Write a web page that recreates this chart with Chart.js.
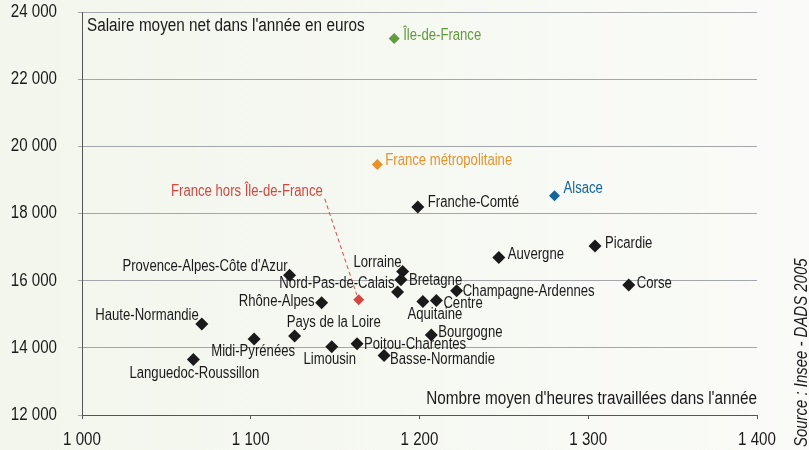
<!DOCTYPE html>
<html>
<head>
<meta charset="utf-8">
<script src="https://cdn.jsdelivr.net/npm/chart.js@4"></script>
<style>
html,body{margin:0;padding:0;background:#f6f9f2;}
#wrap{width:809px;height:450px;position:relative;}
</style>
</head>
<body>
<div id="wrap"><canvas id="c" width="809" height="450"></canvas></div>
<script>
// ---- data ----
const regions = ["Provence-Alpes-Côte d'Azur","Lorraine","Bretagne","Nord-Pas-de-Calais","Rhône-Alpes","Haute-Normandie","Pays de la Loire","Midi-Pyrénées","Limousin","Poitou-Charentes","Basse-Normandie","Languedoc-Roussillon","Aquitaine","Centre","Champagne-Ardennes","Bourgogne","Auvergne","Picardie","Corse","Franche-Comté"];
const regionHours = [1123,1190,1189,1187,1142,1071,1126,1102,1148,1163,1179,1066,1202,1210,1222,1207,1247,1304,1324,1199];
const regionSalary = [16160,16270,16030,15660,15340,14710,14350,14260,14030,14120,13770,13650,15380,15410,15700,14380,16690,17030,15870,18190];

const alsaceName = ["Alsace"];
const alsaceHours = [1280];
const alsaceSalary = [18530];

const idfName = ["Île-de-France"];
const idfHours = [1185];
const idfSalary = [23210];

const metroName = ["France métropolitaine"];
const metroHours = [1175];
const metroSalary = [19460];

const horsIdfName = ["France hors Île-de-France"];
const horsIdfHours = [1164];
const horsIdfSalary = [15430];

const xTicks = [1000,1100,1200,1300,1400];
const yTicks = [12000,14000,16000,18000,20000,22000,24000];

const yTitle = "Salaire moyen net dans l'année en euros";
const xTitle = "Nombre moyen d'heures travaillées dans l'année";
const sourceText = "Source : Insee - DADS 2005";

// ---- label placement (styling: pixel offsets from the marker) ----
const regionLabelPlace = [
  [-2,-9,'right'],[-1,-9,'right'],[8,1,'left'],[-3,-8,'right'],[-7,-1,'right'],
  [-3,-8,'right'],[-8,-13,'left'],[-1,12,'center'],[-2,13,'center'],[7,1,'left'],
  [6,4,'left'],[1,14,'center'],[12,13,'center'],[7,3,'left'],[6,1,'left'],
  [7,-2,'left'],[9,-3,'left'],[10,-2,'left'],[8,-1,'left'],[10,-5,'left']
];
const alsacePlace = [[9,-7,'left']];
const idfPlace = [[9,-3,'left']];
const metroPlace = [[8,-4,'left']];
const horsIdfPlace = [[-36,-108,'right']];

const FONT = "'Liberation Sans',Arial,sans-serif";
Chart.defaults.font.family = FONT;

function pts(xs, ys){ return xs.map((x,i)=>({x:x,y:ys[i]})); }
function fmt(v){ return String(v).replace(/\B(?=(\d{3})+(?!\d))/g,' '); }

// condensed text drawing (emulates a narrow sans face)
function narrowText(ctx, text, x, y, opt){
  ctx.save();
  ctx.translate(x, y);
  if (opt.rotate) ctx.rotate(opt.rotate);
  ctx.scale(opt.narrow || 0.82, 1);
  ctx.font = (opt.italic ? 'italic ' : '') + opt.size + 'px ' + FONT;
  ctx.fillStyle = opt.color || '#1a1a1a';
  ctx.textAlign = opt.align || 'left';
  ctx.textBaseline = opt.baseline || 'middle';
  ctx.fillText(text, 0, 0);
  ctx.restore();
}

const datasets = [
  {label:'Régions', data:pts(regionHours,regionSalary), names:regions, place:regionLabelPlace, color:'#1a1a1a'},
  {label:'Alsace', data:pts(alsaceHours,alsaceSalary), names:alsaceName, place:alsacePlace, color:'#15649f'},
  {label:'Île-de-France', data:pts(idfHours,idfSalary), names:idfName, place:idfPlace, color:'#649a3e'},
  {label:'France métropolitaine', data:pts(metroHours,metroSalary), names:metroName, place:metroPlace, color:'#e8922c'},
  {label:'France hors Île-de-France', data:pts(horsIdfHours,horsIdfSalary), names:horsIdfName, place:horsIdfPlace, color:'#d2473f', leader:true}
].map(d=>Object.assign(d,{
  backgroundColor:d.color, borderColor:d.color, pointStyle:'rectRot',
  pointRadius:d.label==='Régions'?6.5:5.5, borderWidth:0, pointHoverRadius:6
}));

const bgPlugin = {
  id:'bg',
  beforeDraw(chart){
    const ctx = chart.ctx;
    const g = ctx.createLinearGradient(0,0,chart.width,0);
    g.addColorStop(0,'#f2f6ec');
    g.addColorStop(1,'#fafbf8');
    ctx.save(); ctx.fillStyle = g; ctx.fillRect(0,0,chart.width,chart.height); ctx.restore();
  }
};

const textPlugin = {
  id:'texts',
  afterDatasetsDraw(chart){
    const ctx = chart.ctx, ca = chart.chartArea;
    const xs = chart.scales.x, ys = chart.scales.y;
    ctx.save();
    // tick labels
    xTicks.forEach(v=>narrowText(ctx, fmt(v), xs.getPixelForValue(v), 440, {size:18, narrow:0.84, align:'center'}));
    yTicks.forEach(v=>narrowText(ctx, fmt(v), 57, ys.getPixelForValue(v), {size:18, narrow:0.84, align:'right'}));
    // point labels
    chart.data.datasets.forEach((ds,di)=>{
      const meta = chart.getDatasetMeta(di);
      meta.data.forEach((el,i)=>{
        const p = ds.place[i];
        const tx = el.x + p[0], ty = el.y + p[1];
        if (ds.leader){
          ctx.save();
          ctx.strokeStyle = ds.color; ctx.lineWidth = 1; ctx.setLineDash([4,3]);
          ctx.beginPath(); ctx.moveTo(tx+2, ty+7); ctx.lineTo(el.x-2, el.y-5); ctx.stroke();
          ctx.restore();
        }
        narrowText(ctx, ds.names[i], tx, ty, {size:16, align:p[2], color:ds.color});
      });
    });
    // axis titles
    narrowText(ctx, yTitle, ca.left + 5, 31, {size:18, narrow:0.85, baseline:'alphabetic'});
    narrowText(ctx, xTitle, ca.right, 404, {size:18, narrow:0.85, align:'right', baseline:'alphabetic'});
    // source
    narrowText(ctx, sourceText, 807, 447, {size:18, narrow:0.83, italic:true, rotate:-Math.PI/2, baseline:'alphabetic'});
    ctx.restore();
  }
};

new Chart(document.getElementById('c'), {
  type:'scatter',
  data:{datasets:datasets},
  options:{
    responsive:false, animation:false, devicePixelRatio:1,
    layout:{padding:{top:12,right:52,left:0,bottom:0}},
    plugins:{legend:{display:false}, tooltip:{enabled:false}},
    scales:{
      x:{
        type:'linear', min:1000, max:1400,
        afterBuildTicks(s){ s.ticks = xTicks.map(v=>({value:v})); },
        afterFit(s){ s.height = 35; s.paddingLeft = 0; s.paddingRight = 0; },
        grid:{drawOnChartArea:false, drawTicks:true, tickLength:4, color:'#555'},
        border:{color:'#555', width:1},
        ticks:{display:false}
      },
      y:{
        type:'linear', min:12000, max:24000,
        afterBuildTicks(s){ s.ticks = yTicks.map(v=>({value:v})); },
        afterFit(s){ s.width = 82; s.paddingTop = 0; s.paddingBottom = 0; },
        grid:{drawOnChartArea:true, drawTicks:true, tickLength:4, color:'#a3a7aa'},
        border:{color:'#555', width:1},
        ticks:{display:false}
      }
    }
  },
  plugins:[bgPlugin,textPlugin]
});
</script>
</body>
</html>
